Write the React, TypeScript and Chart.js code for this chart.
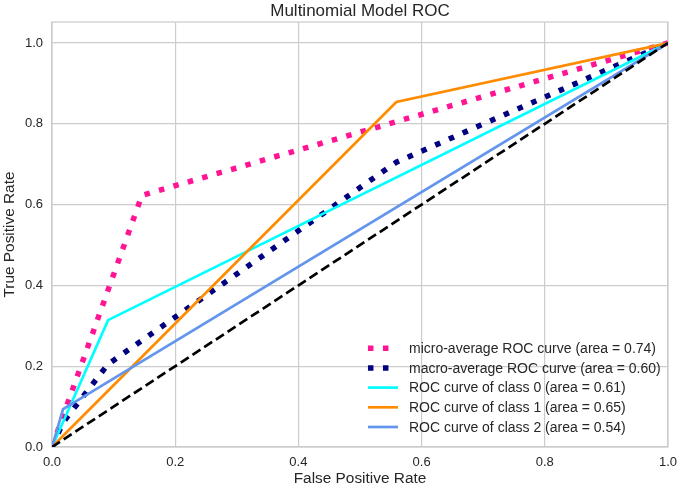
import React, { useEffect, useRef } from "react";
import { Chart, registerables } from "chart.js";

Chart.register(...registerables);

const TITLE = "Multinomial Model ROC";
const X_LABEL = "False Positive Rate";
const Y_LABEL = "True Positive Rate";
const TICK_VALUES = [0, 0.2, 0.4, 0.6, 0.8, 1.0];

const microFpr = [0, 0.146, 1];
const microTpr = [0, 0.623, 1];
const macroFpr = [0, 0.018, 0.091, 0.559, 1];
const macroTpr = [0, 0.061, 0.205, 0.705, 1];
const class0Fpr = [0, 0.091, 1];
const class0Tpr = [0, 0.314, 1];
const class1Fpr = [0, 0.559, 1];
const class1Tpr = [0, 0.854, 1];
const class2Fpr = [0, 0.018, 1];
const class2Tpr = [0, 0.094, 1];
const diagFpr = [0, 1];
const diagTpr = [0, 1];

const LABELS = [
  "micro-average ROC curve (area = 0.74)",
  "macro-average ROC curve (area = 0.60)",
  "ROC curve of class 0 (area = 0.61)",
  "ROC curve of class 1 (area = 0.65)",
  "ROC curve of class 2 (area = 0.54)",
];

const TEXT = "#262626";
const GRID = "#cccccc";
const FONT = "'Liberation Sans', Arial, sans-serif";

const pts = (xs: number[], ys: number[]) => xs.map((x, i) => ({ x, y: ys[i] }));

const DOT_W = 5.5;
const DOT_DASH = [5.5, 9.5];
const LINE_W = 2.7;

export default function App() {
  const ref = useRef<HTMLCanvasElement | null>(null);

  useEffect(() => {
    const canvas = ref.current;
    if (!canvas) return;

    const deco = {
      id: "deco",
      beforeDatasetsDraw(chart: any) {
        const { ctx, chartArea: a } = chart;
        ctx.save();
        ctx.strokeStyle = GRID;
        ctx.lineWidth = 1.25;
        ctx.strokeRect(a.left, a.top, a.right - a.left, a.bottom - a.top);
        ctx.restore();
      },
      afterDraw(chart: any) {
        const { ctx, chartArea: a } = chart;
        ctx.save();
        // title
        ctx.fillStyle = TEXT;
        ctx.font = `17px ${FONT}`;
        ctx.textAlign = "center";
        ctx.textBaseline = "middle";
        ctx.fillText(TITLE, (a.left + a.right) / 2, 11);
        // legend
        const ds = chart.data.datasets;
        const x0 = a.right - 300;
        const x1 = a.right - 270;
        const tx = a.right - 259;
        const rowH = 19.7;
        const yLast = a.bottom - 20;
        ctx.font = `14px ${FONT}`;
        ctx.textAlign = "left";
        for (let i = 0; i < LABELS.length; i++) {
          const y = yLast - (LABELS.length - 1 - i) * rowH;
          const d = ds[i];
          ctx.beginPath();
          ctx.strokeStyle = d.borderColor;
          ctx.lineWidth = d.borderWidth;
          ctx.lineCap = "butt";
          ctx.setLineDash(d.borderDash || []);
          ctx.moveTo(x0, y);
          ctx.lineTo(x1, y);
          ctx.stroke();
          ctx.setLineDash([]);
          ctx.fillStyle = TEXT;
          ctx.fillText(LABELS[i], tx, y + 1);
        }
        ctx.restore();
      },
    };

    const chart = new Chart(canvas, {
      type: "scatter",
      data: {
        datasets: [
          { label: LABELS[0], data: pts(microFpr, microTpr), borderColor: "#ff1493", borderWidth: DOT_W, borderDash: DOT_DASH, order: 6 },
          { label: LABELS[1], data: pts(macroFpr, macroTpr), borderColor: "#000080", borderWidth: DOT_W, borderDash: DOT_DASH, order: 5 },
          { label: LABELS[2], data: pts(class0Fpr, class0Tpr), borderColor: "#00ffff", borderWidth: LINE_W, order: 4 },
          { label: LABELS[3], data: pts(class1Fpr, class1Tpr), borderColor: "#ff8c00", borderWidth: LINE_W, order: 3 },
          { label: LABELS[4], data: pts(class2Fpr, class2Tpr), borderColor: "#6495ed", borderWidth: LINE_W, order: 2 },
          { label: "chance", data: pts(diagFpr, diagTpr), borderColor: "#000000", borderWidth: LINE_W, borderDash: [9.5, 4.5], order: 1 },
        ].map((d: any) => ({ ...d, showLine: true, pointRadius: 0, pointHoverRadius: 0, tension: 0, fill: false, backgroundColor: d.borderColor })),
      },
      options: {
        animation: false,
        responsive: false,
        devicePixelRatio: 1,
        layout: { padding: { top: 22, right: 15, left: 0, bottom: 0 } },
        plugins: { legend: { display: false }, title: { display: false }, tooltip: { enabled: false } },
        scales: {
          x: {
            type: "linear",
            min: 0,
            max: 1,
            afterBuildTicks: (s: any) => { s.ticks = TICK_VALUES.map((v) => ({ value: v })); },
            afterFit: (s: any) => { s.height = 41; },
            ticks: { color: TEXT, font: { family: FONT, size: 13 }, padding: 8, callback: (v: any) => Number(v).toFixed(1), maxRotation: 0 },
            grid: { color: GRID, lineWidth: 1.2, drawTicks: false },
            border: { display: false },
            title: { display: true, text: X_LABEL, color: TEXT, font: { family: FONT, size: 15.4 }, padding: { top: 0, bottom: 0 } },
          },
          y: {
            type: "linear",
            min: 0,
            max: 1.052,
            afterBuildTicks: (s: any) => { s.ticks = TICK_VALUES.map((v) => ({ value: v })); },
            afterFit: (s: any) => { s.width = 52; },
            ticks: { color: TEXT, font: { family: FONT, size: 13 }, padding: 9, callback: (v: any) => Number(v).toFixed(1) },
            grid: { color: GRID, lineWidth: 1.2, drawTicks: false },
            border: { display: false },
            title: { display: true, text: Y_LABEL, color: TEXT, font: { family: FONT, size: 15.4 }, padding: { top: 1, bottom: 0 } },
          },
        },
      },
      plugins: [deco],
    } as any);

    return () => chart.destroy();
  }, []);

  return (
    <div style={{ position: "fixed", left: 0, top: 0, width: 685, height: 488, background: "#ffffff" }}>
      <canvas ref={ref} width={685} height={488} style={{ width: 685, height: 488, display: "block" }} />
    </div>
  );
}
